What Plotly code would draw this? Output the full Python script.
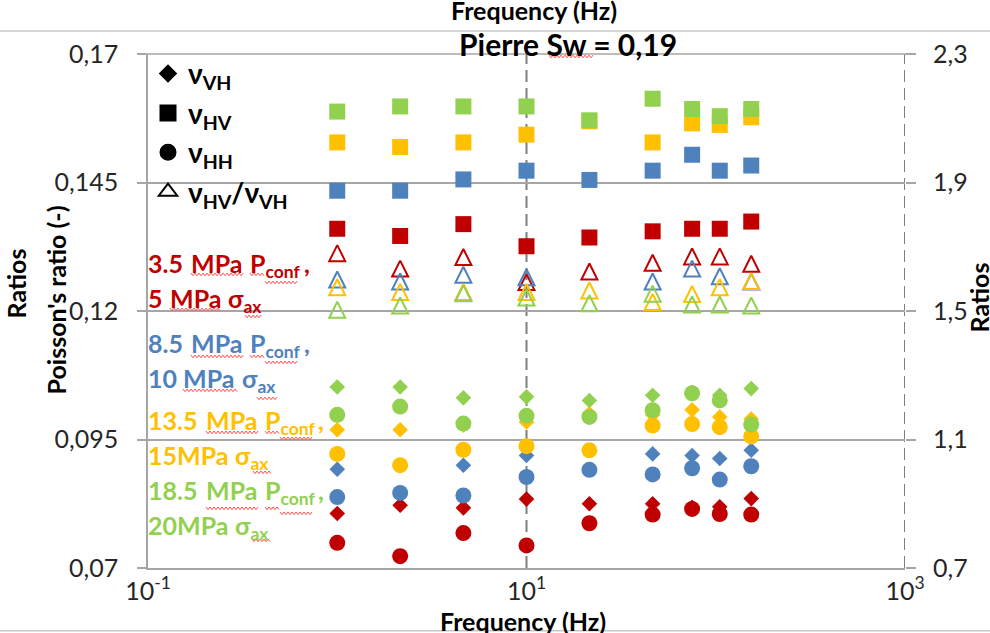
import plotly.graph_objects as go

# Measurement frequencies (Hz)
freq = [1, 2.15, 4.64, 10, 21.5, 46.4, 75, 105, 154]

# Loading conditions (colour per condition)
conditions = ["3.5 MPa Pconf / 5 MPa σax", "8.5 MPa Pconf / 10 MPa σax",
              "13.5 MPa Pconf / 15 MPa σax", "18.5 MPa Pconf / 20 MPa σax"]
colors = ["#C00000", "#4F81BD", "#FFC000", "#92D050"]

# Poisson's ratio nu_VH (diamonds)
nu_vh_35 = [0.0806, 0.0822, 0.0817, 0.0834, 0.0825, 0.0825, 0.0818, 0.0819, 0.0835]
nu_vh_85 = [0.0892, 0.0899, 0.0900, 0.0919, None, 0.0922, 0.0919, 0.0913, 0.0929]
nu_vh_135 = [0.0969, 0.0969, 0.0978, 0.0984, 0.1000, 0.0998, 0.1008, 0.0994, 0.0990]
nu_vh_185 = [0.1052, 0.1052, 0.1031, 0.1033, 0.1026, 0.1036, 0.1042, 0.1036, 0.1049]

# Poisson's ratio nu_HV (squares)
nu_hv_35 = [0.1360, 0.1346, 0.1369, 0.1326, 0.1343, 0.1355, 0.1360, 0.1360, 0.1374]
nu_hv_85 = [0.1434, 0.1434, 0.1456, 0.1473, 0.1455, 0.1473, 0.1504, 0.1473, 0.1483]
nu_hv_135 = [0.1528, 0.1519, 0.1528, 0.1543, 0.1569, 0.1528, 0.1565, 0.1562, 0.1577]
nu_hv_185 = [0.1588, 0.1598, 0.1598, 0.1598, 0.1571, 0.1613, 0.1593, 0.1579, 0.1593]

# Poisson's ratio nu_HH (circles)
nu_hh_35 = [0.0749, 0.0723, 0.0768, 0.0744, 0.0787, 0.0804, 0.0815, 0.0805, 0.0804]
nu_hh_85 = [0.0838, 0.0846, 0.0841, 0.0877, 0.0891, 0.0882, 0.0894, 0.0872, 0.0898]
nu_hh_135 = [0.0922, 0.0900, 0.0930, 0.0937, 0.0929, 0.0977, 0.0980, 0.0974, 0.0956]
nu_hh_185 = [0.0998, 0.1014, 0.0981, 0.0996, 0.0994, 0.1007, 0.1040, 0.1026, 0.0979]

# Ratio nu_HV / nu_VH (open triangles, right axis)
ratio_35 = [1.680, 1.632, 1.668, 1.590, 1.623, 1.650, 1.670, 1.670, 1.647]
ratio_85 = [1.598, 1.592, 1.613, 1.605, None, 1.592, 1.632, 1.608, 1.592]
ratio_135 = [1.574, 1.559, 1.559, 1.559, 1.564, 1.528, 1.553, 1.574, 1.593]
ratio_185 = [1.504, 1.517, 1.555, 1.542, 1.524, 1.554, 1.520, 1.520, 1.517]

# Axis ticks
x_tickvals = [0.1, 10, 1000]
x_ticktext = ["10<sup>-1</sup>", "10<sup>1</sup>", "10<sup>3</sup>"]
y_tickvals = [0.07, 0.095, 0.12, 0.145, 0.17]
y_ticktext = ["0,07", "0,095", "0,12", "0,145", "0,17"]
y2_tickvals = [0.7, 1.1, 1.5, 1.9, 2.3]
y2_ticktext = ["0,7", "1,1", "1,5", "1,9", "2,3"]

# Condition labels: one line per row, split into words
label_rows = [
    (["3.5", "MPa", "P<sub>conf</sub>", ","], colors[0]),
    (["5", "MPa", "σ<sub>ax</sub>"], colors[0]),
    (["8.5", "MPa", "P<sub>conf</sub>", ","], colors[1]),
    (["10", "MPa", "σ<sub>ax</sub>"], colors[1]),
    (["13.5", "MPa", "P<sub>conf</sub>", ","], colors[2]),
    (["15MPa", "σ<sub>ax</sub>"], colors[2]),
    (["18.5", "MPa", "P<sub>conf</sub>", ","], colors[3]),
    (["20MPa", "σ<sub>ax</sub>"], colors[3]),
]

W, H = 990, 633
L, R, T, B = 148, 905, 53.5, 567.7
FONT = "Lato"
GRID = "#A6A6A6"
TXT = "#262626"

# word left edges (px) and row cap tops (px) for the condition labels
row_word_x = [
    [148, 191, 250, 304],
    [148, 170, 228],
    [148, 191, 250, 304],
    [148, 183, 242],
    [148, 206, 265, 318],
    [148, 235],
    [148, 206, 265, 318],
    [148, 235],
]
row_cap_top = [255, 290, 335, 370, 412, 447, 482, 517]


def px(xp):
    return (xp - L) / (R - L)


def py(yp):
    return (B - yp) / (B - T)


def squiggle(x0, x1, y, amp=1.3, step=2.0):
    """Wavy spell-check style underline as an SVG path in paper units."""
    pts = []
    x = x0
    k = 0
    while x <= x1:
        yy = y - amp if k % 2 == 0 else y + amp
        pts.append(f"{px(x):.5f},{py(yy):.5f}")
        x += step
        k += 1
    return dict(type="path", xref="paper", yref="paper",
                path="M " + " L ".join(pts),
                line=dict(color="#FF4A4A", width=1))


fig = go.Figure()

diamonds = [nu_vh_35, nu_vh_85, nu_vh_135, nu_vh_185]
squares = [nu_hv_35, nu_hv_85, nu_hv_135, nu_hv_185]
circles = [nu_hh_35, nu_hh_85, nu_hh_135, nu_hh_185]
ratios = [ratio_35, ratio_85, ratio_135, ratio_185]

TRI = 16  # triangle marker size (width = height)

for vals, c, name in zip(diamonds, colors, conditions):
    fig.add_trace(go.Scatter(x=freq, y=vals, mode="markers", showlegend=False, name=name,
                             marker=dict(symbol="diamond", size=12, color=c)))
for vals, c, name in zip(squares, colors, conditions):
    fig.add_trace(go.Scatter(x=freq, y=vals, mode="markers", showlegend=False, name=name,
                             marker=dict(symbol="square", size=16, color=c)))
for vals, c, name in zip(circles, colors, conditions):
    fig.add_trace(go.Scatter(x=freq, y=vals, mode="markers", showlegend=False, name=name,
                             marker=dict(symbol="circle", size=16, color=c)))
# isosceles open triangle: a flipped arrow glyph, shifted back so it is centred on the value
for vals, c, name in zip(ratios, colors, conditions):
    fig.add_trace(go.Scatter(x=freq, y=vals, mode="markers", showlegend=False, name=name,
                             yaxis="y2",
                             marker=dict(symbol="arrow-down-open", size=TRI, color=c,
                                         angle=180, standoff=TRI / 2,
                                         line=dict(width=2, color=c))))

# Legend entries (black symbols)
legend_items = [("diamond", 12, "ν<sub>VH</sub>"), ("square", 15, "ν<sub>HV</sub>"),
                ("circle", 15, "ν<sub>HH</sub>"),
                ("triangle-up-open", 16, "ν<sub>HV</sub>/ν<sub>VH</sub>")]
for sym, sz, lab in legend_items:
    fig.add_trace(go.Scatter(x=[None], y=[None], mode="markers", name=lab,
                             marker=dict(symbol=sym, size=sz, color="black",
                                         line=dict(width=2, color="black"))))

shapes = [
    # dashed vertical reference lines
    dict(type="line", xref="x", yref="paper", x0=10, x1=10, y0=0, y1=1,
         line=dict(color="#7F7F7F", width=2, dash="12px,6px"), layer="below"),
    dict(type="line", xref="x", yref="paper", x0=1000, x1=1000, y0=0, y1=1,
         line=dict(color="#7F7F7F", width=2, dash="12px,6px"), layer="below"),
    # top gridline across plot and tick stubs
    dict(type="line", xref="paper", yref="paper", x0=px(139), x1=px(915), y0=1, y1=1,
         line=dict(color=GRID, width=1.5)),
    # page rules
    dict(type="line", xref="paper", yref="paper", x0=px(0), x1=px(990), y0=py(30.5), y1=py(30.5),
         line=dict(color="#C8C8C8", width=1.5)),
    dict(type="line", xref="paper", yref="paper", x0=px(0), x1=px(990), y0=py(630.5), y1=py(630.5),
         line=dict(color="#C8C8C8", width=1.5)),
]

# wavy underlines below flagged words
wavy = [
    (191, 244, 274), (250, 264, 274), (265, 297, 282),
    (170, 220, 309), (245, 261, 316),
    (191, 243, 356), (250, 264, 356), (265, 297, 362),
    (183, 237, 390), (257, 277, 398),
    (206, 258, 432), (265, 280, 432), (280, 313, 438),
    (253, 271, 472),
    (206, 258, 508), (265, 280, 508), (280, 313, 513),
    (252, 270, 540),
    (549, 593, 56),
]
shapes += [squiggle(*w) for w in wavy]

annotations = []
for (words, c), xs, top in zip(label_rows, row_word_x, row_cap_top):
    for w, xw in zip(words, xs):
        annotations.append(dict(text=w, xref="paper", yref="paper", x=px(xw - 1), y=py(top - 8),
                                xanchor="left", yanchor="top", showarrow=False,
                                borderpad=0,
                                font=dict(family=FONT, size=25, color=c, weight="bold")))

annotations += [
    dict(text="<b>Pierre Sw = 0,19</b>", xref="paper", yref="paper", x=px(568), y=py(43),
         xanchor="center", yanchor="middle", showarrow=False,
         font=dict(family=FONT, size=30, color="#000000")),
    dict(text="<b>Frequency (Hz)</b>", xref="paper", yref="paper", x=px(534), y=py(9),
         xanchor="center", yanchor="middle", showarrow=False,
         font=dict(family=FONT, size=25, color="#000000")),
    dict(text="<b>Frequency (Hz)</b>", xref="paper", yref="paper", x=px(523), y=py(621),
         xanchor="center", yanchor="middle", showarrow=False,
         font=dict(family=FONT, size=25, color="#000000")),
    dict(text="<b>Ratios</b>", xref="paper", yref="paper", x=px(16), y=py(283),
         xanchor="center", yanchor="middle", showarrow=False, textangle=-90,
         font=dict(family=FONT, size=25, color="#000000")),
    dict(text="<b>Poisson's ratio (-)</b>", xref="paper", yref="paper", x=px(56), y=py(300),
         xanchor="center", yanchor="middle", showarrow=False, textangle=-90,
         font=dict(family=FONT, size=25, color="#000000")),
    dict(text="<b>Ratios</b>", xref="paper", yref="paper", x=px(979), y=py(297),
         xanchor="center", yanchor="middle", showarrow=False, textangle=-90,
         font=dict(family=FONT, size=25, color="#000000")),
]

fig.update_layout(
    width=W, height=H,
    margin=dict(l=L, r=W - R, t=T, b=H - B),
    paper_bgcolor="white", plot_bgcolor="white",
    font=dict(family=FONT, color=TXT),
    xaxis=dict(type="log", range=[-1, 3], tickvals=x_tickvals, ticktext=x_ticktext,
               showgrid=False, zeroline=False, showline=True, linecolor=GRID, linewidth=1.5,
               ticks="", tickfont=dict(family=FONT, size=25, color=TXT)),
    yaxis=dict(range=[0.07, 0.17], tickvals=y_tickvals, ticktext=y_ticktext,
               showgrid=True, gridcolor=GRID, gridwidth=1.5, zeroline=False,
               showline=True, linecolor=GRID, linewidth=1.5,
               ticks="outside", ticklen=9, tickcolor=GRID, tickwidth=1.5,
               ticklabelstandoff=14,
               tickfont=dict(family=FONT, size=25, color=TXT)),
    yaxis2=dict(range=[0.7, 2.3], tickvals=y2_tickvals, ticktext=y2_ticktext,
                overlaying="y", side="right", showgrid=False, zeroline=False,
                showline=False, ticks="outside", ticklen=10, tickcolor=GRID, tickwidth=1.5,
                ticklabelstandoff=12,
                tickfont=dict(family=FONT, size=25, color=TXT)),
    legend=dict(x=0.0, y=1.01, xanchor="left", yanchor="top", bgcolor="rgba(0,0,0,0)",
                font=dict(family=FONT, size=28, color="#000000", weight="bold"),
                itemsizing="trace", tracegroupgap=0),
    shapes=shapes,
    annotations=annotations,
)

fig.write_html("out.html")
